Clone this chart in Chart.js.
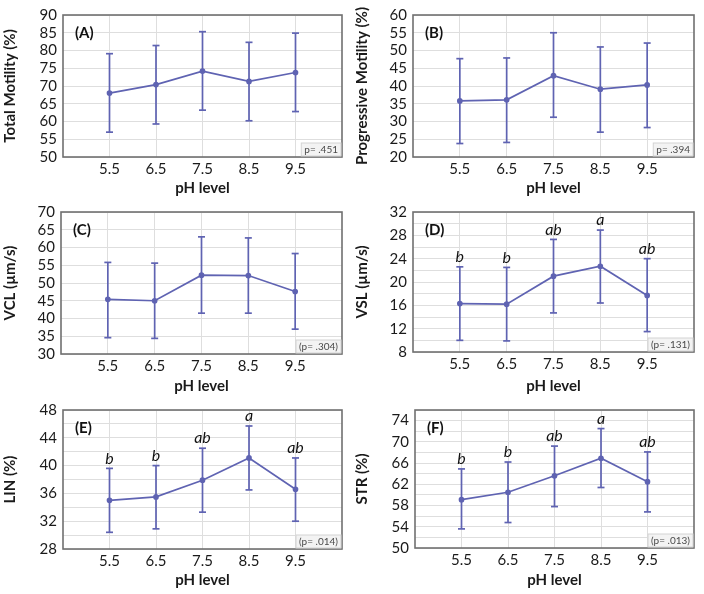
<!DOCTYPE html>
<html>
<head>
<meta charset="utf-8">
<script src="https://cdn.jsdelivr.net/npm/chart.js@4.4.1/dist/chart.umd.min.js"></script>
<style>
  html, body { margin: 0; padding: 0; background: #fff; }
  #wrap { position: relative; width: 704px; height: 594px; }
  .panel { position: absolute; }
</style>
</head>
<body>
<div id="wrap"></div>
<script>
// pH levels on the x axis
const phLevels = [5.5, 6.5, 7.5, 8.5, 9.5];

// (A) Total motility
const totalMean = [68.0, 70.4, 74.2, 71.3, 73.8];
const totalLow = [57.0, 59.3, 63.2, 60.2, 62.8];
const totalHigh = [79.1, 81.4, 85.3, 82.3, 84.9];

// (B) Progressive motility
const progMean = [35.8, 36.1, 42.9, 39.1, 40.3];
const progLow = [23.8, 24.1, 31.2, 27.0, 28.3];
const progHigh = [47.7, 47.9, 55.0, 51.0, 52.1];

// (C) VCL
const vclMean = [45.4, 45.0, 52.2, 52.1, 47.6];
const vclLow = [34.6, 34.4, 41.5, 41.5, 37.0];
const vclHigh = [55.8, 55.6, 63.0, 62.7, 58.3];

// (D) VSL
const vslMean = [16.3, 16.2, 21.0, 22.7, 17.7];
const vslLow = [10.0, 9.9, 14.7, 16.4, 11.5];
const vslHigh = [22.6, 22.5, 27.3, 28.9, 24.0];

// (E) LIN
const linMean = [35.0, 35.5, 37.9, 41.1, 36.6];
const linLow = [30.4, 30.9, 33.3, 36.5, 32.0];
const linHigh = [39.6, 40.0, 42.5, 45.7, 41.1];

// (F) STR
const strMean = [59.1, 60.5, 63.6, 66.9, 62.5];
const strLow = [53.6, 54.8, 57.8, 61.4, 56.8];
const strHigh = [64.9, 66.2, 69.2, 72.5, 68.1];

// significance letters (D, E, F)
const groupLetters = ["b", "b", "ab", "a", "ab"];

const FONT = "Lato, 'Liberation Sans', sans-serif";
const LINE = "#5f63b2";

const panels = [
  { tag: "(A)", title: "Total Motility (%)", mean: totalMean, low: totalLow, high: totalHigh,
    yMin: 50, yMax: 90, step: 5, every: 5, p: "p= .451", letters: null,
    box: { x: 0, y: 0, w: 352, h: 197 }, plot: { l: 63, r: 342, t: 13, b: 157 }, padB: 0 },
  { tag: "(B)", title: "Progressive Motility (%)", mean: progMean, low: progLow, high: progHigh,
    yMin: 20, yMax: 60, step: 5, every: 5, p: "p= .394", letters: null,
    box: { x: 352, y: 0, w: 352, h: 197 }, plot: { l: 61, r: 342, t: 13, b: 157 }, padB: 0 },
  { tag: "(C)", title: "VCL (\u00b5m/s)", mean: vclMean, low: vclLow, high: vclHigh,
    yMin: 30, yMax: 70, step: 5, every: 5, p: "(p= .304)", letters: null,
    box: { x: 0, y: 197, w: 352, h: 198 }, plot: { l: 61, r: 342, t: 13, b: 157 }, padB: 0 },
  { tag: "(D)", title: "VSL (\u00b5m/s)", mean: vslMean, low: vslLow, high: vslHigh,
    yMin: 8, yMax: 32, step: 2, every: 4, p: "(p= .131)", letters: groupLetters,
    box: { x: 352, y: 197, w: 352, h: 198 }, plot: { l: 61, r: 342, t: 12, b: 155 }, padB: 0 },
  { tag: "(E)", title: "LIN (%)", mean: linMean, low: linLow, high: linHigh,
    yMin: 28, yMax: 48, step: 2, every: 4, p: "(p= .014)", letters: groupLetters,
    box: { x: 0, y: 395, w: 352, h: 199 }, plot: { l: 63, r: 342, t: 9, b: 154 }, padB: 5 },
  { tag: "(F)", title: "STR (%)", mean: strMean, low: strLow, high: strHigh,
    yMin: 50, yMax: 76, step: 2, every: 4, p: "(p= .013)", letters: groupLetters,
    box: { x: 352, y: 395, w: 352, h: 199 }, plot: { l: 63, r: 342, t: 7, b: 153 }, padB: 5 },
];

// frame, panel tag, p-value and letters
const decorPlugin = {
  id: "decor",
  afterDraw(chart, args, opts) {
    const { ctx, chartArea: a, scales } = chart;
    ctx.save();
    ctx.strokeStyle = "#707070";
    ctx.lineWidth = 1.6;
    ctx.strokeRect(a.left, a.top, a.right - a.left, a.bottom - a.top);

    ctx.fillStyle = "#111";
    ctx.font = "bold 15px " + FONT;
    ctx.textAlign = "left";
    ctx.textBaseline = "middle";
    ctx.fillText(opts.tag, a.left + 12, a.top + 18);

    ctx.font = "10px " + FONT;
    const w = ctx.measureText(opts.p).width + 6;
    ctx.fillStyle = "#f3f3f3";
    ctx.fillRect(a.right - w - 1, a.bottom - 14, w, 13);
    ctx.strokeStyle = "#d4d4d4";
    ctx.lineWidth = 1;
    ctx.strokeRect(a.right - w - 1, a.bottom - 14, w, 13);
    ctx.fillStyle = "#4a4a4a";
    ctx.textAlign = "right";
    ctx.fillText(opts.p, a.right - 4, a.bottom - 7);

    if (opts.letters) {
      ctx.font = "italic 16px " + FONT;
      ctx.fillStyle = "#111";
      ctx.textAlign = "center";
      ctx.textBaseline = "bottom";
      opts.letters.forEach((t, i) => {
        const x = scales.x.getPixelForValue(phLevels[i]);
        const y = scales.y.getPixelForValue(opts.high[i]);
        ctx.fillText(t, x, y - 2);
      });
    }
    ctx.restore();
  },
};

const makeChart = (p) => {
  const div = document.createElement("div");
  div.className = "panel";
  div.style.left = p.box.x + "px";
  div.style.top = p.box.y + "px";
  div.style.width = p.box.w + "px";
  div.style.height = p.box.h + "px";
  const canvas = document.createElement("canvas");
  canvas.width = p.box.w;
  canvas.height = p.box.h;
  div.appendChild(canvas);
  document.getElementById("wrap").appendChild(div);

  // error bars: one tiny two-point line per pH level, caps drawn as 'line' points
  const errorSets = phLevels.map((x, i) => ({
    type: "line",
    data: [{ x: x, y: p.low[i] }, { x: x, y: p.high[i] }],
    borderColor: LINE,
    borderWidth: 1.7,
    pointStyle: "line",
    pointRadius: 3.5,
    pointBorderColor: LINE,
    pointBorderWidth: 1.7,
    pointHoverRadius: 0,
  }));

  const meanSet = {
    type: "line",
    data: phLevels.map((x, i) => ({ x: x, y: p.mean[i] })),
    borderColor: LINE,
    borderWidth: 1.7,
    pointRadius: 2,
    pointBackgroundColor: LINE,
    pointBorderColor: LINE,
    tension: 0,
  };

  new Chart(canvas, {
    type: "scatter",
    data: { datasets: [meanSet, ...errorSets] },
    options: {
      responsive: false,
      animation: false,
      events: [],
      layout: { padding: { top: p.plot.t, right: p.box.w - p.plot.r, left: 0, bottom: p.padB } },
      plugins: {
        legend: { display: false },
        tooltip: { enabled: false },
        decor: { tag: p.tag, p: p.p, letters: p.letters, high: p.high },
      },
      scales: {
        x: {
          type: "linear",
          min: 4.5,
          max: 10.5,
          afterBuildTicks: (axis) => {
            axis.ticks = phLevels.map((v) => ({ value: v }));
          },
          afterFit: (s) => { s.height = p.box.h - p.plot.b - p.padB; },
          ticks: {
            padding: 3,
            color: "#1a1a1a",
            font: { family: FONT, size: 15 },
            callback: (v) => v.toFixed(1),
          },
          grid: { color: "#dedede", drawTicks: false },
          border: { display: false },
          title: {
            display: true,
            text: "pH level",
            color: "#1a1a1a",
            font: { family: FONT, size: 15, weight: "bold" },
            padding: { top: 2, bottom: 0 },
          },
        },
        y: {
          min: p.yMin,
          max: p.yMax,
          afterFit: (s) => { s.width = p.plot.l; },
          ticks: {
            stepSize: p.step,
            autoSkip: false,
            padding: 6,
            color: "#1a1a1a",
            font: { family: FONT, size: 15 },
            callback: (v) => ((v - p.yMin) % p.every === 0 ? v : ""),
          },
          grid: { color: "#dedede", drawTicks: false },
          border: { display: false },
          title: {
            display: true,
            text: p.title,
            color: "#1a1a1a",
            font: { family: FONT, size: 15, weight: "bold" },
            padding: { top: 1, bottom: 2 },
          },
        },
      },
    },
    plugins: [decorPlugin],
  });
};

panels.forEach(makeChart);
</script>
</body>
</html>
